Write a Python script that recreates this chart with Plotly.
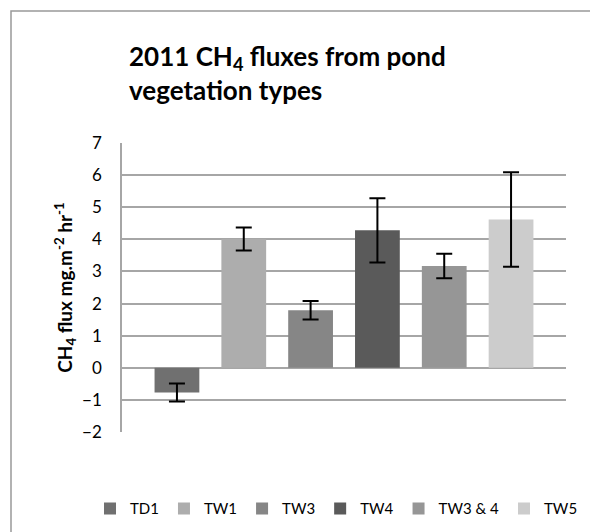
import plotly.graph_objects as go

# bar series (one bar per vegetation type)
series = ["TD1", "TW1", "TW3", "TW4", "TW3 & 4", "TW5"]
flux = [-0.77, 4.01, 1.79, 4.28, 3.17, 4.62]
flux_err = [0.28, 0.36, 0.29, 1.0, 0.38, 1.47]
colors = ["#707070", "#adadad", "#868686", "#5a5a5a", "#969696", "#cccccc"]
y_ticks = [-2, -1, 0, 1, 2, 3, 4, 5, 6, 7]

FONT = "Lato, 'Open Sans', sans-serif"
GRID = "#a6a6a6"

fig = go.Figure()
for name, val, err, col in zip(series, flux, flux_err, colors):
    fig.add_trace(go.Bar(
        x=["2011"], y=[val], name=name,
        marker=dict(color=col, line=dict(width=0)),
        error_y=dict(type="data", array=[err], color="black",
                     thickness=2, width=8),
    ))

# page body adds an 8px offset, so the plot box is placed 8px up/left
fig.update_layout(
    width=598, height=532,
    margin=dict(l=114, r=40, t=135, b=108),
    paper_bgcolor="white", plot_bgcolor="white",
    font=dict(family=FONT, size=15, color="black"),
    barmode="group", bargap=0.097, bargroupgap=0.33,
    title=dict(
        text="<b>2011 CH<sub>4</sub> fluxes from pond<br>vegetation types</b>",
        font=dict(size=26, family=FONT, color="black"),
        x=121 / 598, xref="container", xanchor="left",
        y=1 - 58 / 532, yanchor="top",
    ),
    showlegend=True,
    legend=dict(orientation="h", x=(82 - 114) / 444, xanchor="left",
                y=-0.266, yanchor="middle",
                font=dict(size=15, family=FONT),
                itemclick=False, itemdoubleclick=False),
)

fig.update_xaxes(showticklabels=False, showgrid=False, showline=False,
                 zeroline=False, ticks="", automargin=False)
fig.update_yaxes(
    range=[-2, 7], tickvals=y_ticks, showgrid=True, gridcolor=GRID,
    gridwidth=1.5, zeroline=True, zerolinecolor=GRID, zerolinewidth=1.5,
    showline=True, linecolor=GRID, linewidth=1.5, ticks="",
    ticklabelstandoff=15, tickfont=dict(size=17), automargin=False,
    title=dict(text="<b>CH<sub>4</sub> flux mg.m<sup>-2</sup> hr<sup>-1</sup></b>",
               font=dict(size=19), standoff=4),
)

# outer chart frame (left and top edges visible, rest runs off the picture)
fig.add_shape(type="rect", xref="paper", yref="paper",
              x0=-0.25, x1=1.3, y0=-0.6, y1=(424 - 3) / 289,
              line=dict(color="#999999", width=1.5), layer="below")

fig.write_html("out.html")
